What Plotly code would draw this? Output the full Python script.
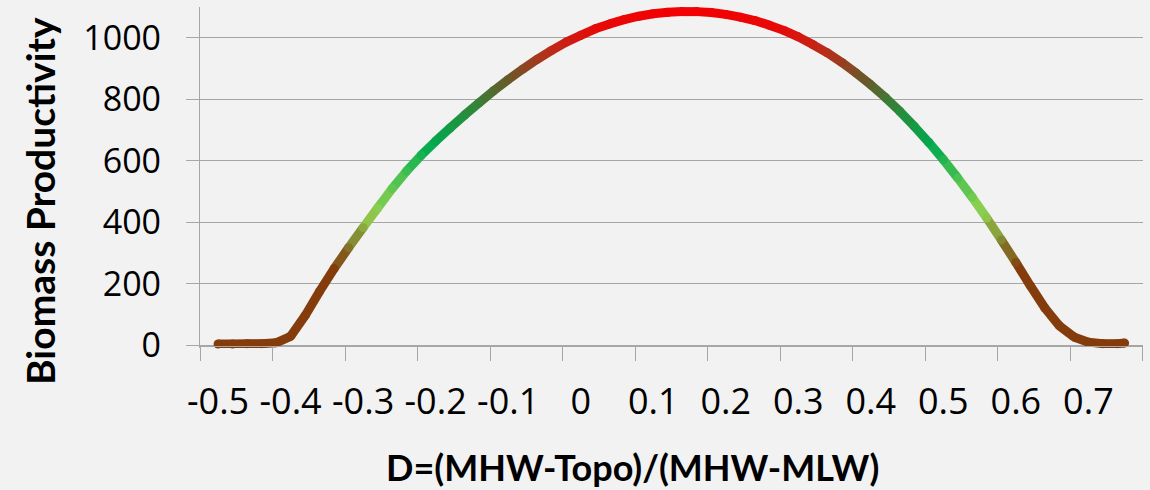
import plotly.graph_objects as go

# ---- data ----
d_values = [-0.50, -0.48, -0.46, -0.44, -0.42, -0.40, -0.38, -0.36, -0.34, -0.32,
            -0.30, -0.28, -0.26, -0.24, -0.22, -0.20, -0.18, -0.16, -0.14, -0.12,
            -0.10, -0.08, -0.06, -0.04, -0.02, 0.00, 0.02, 0.04, 0.06, 0.08,
            0.10, 0.12, 0.14, 0.16, 0.18, 0.20, 0.22, 0.24, 0.26, 0.28,
            0.30, 0.32, 0.34, 0.36, 0.38, 0.40, 0.42, 0.44, 0.46, 0.48,
            0.50, 0.52, 0.54, 0.56, 0.58, 0.60, 0.62, 0.64, 0.66, 0.68,
            0.70, 0.72, 0.74, 0.75]
productivity = [5, 5, 6, 6, 9, 30, 97, 176, 250, 318,
                383, 447, 510, 567, 618, 664, 707, 749, 789, 828,
                864, 898, 930, 959, 986, 1008, 1029, 1045, 1059, 1070,
                1078, 1083, 1085, 1085, 1082, 1076, 1067, 1056, 1041, 1024,
                1003, 978, 951, 920, 885, 847, 806, 761, 712, 660,
                604, 544, 481, 414, 343, 270, 194, 122, 64, 28,
                11, 6, 6, 8]
y_tick_values = [0, 200, 400, 600, 800, 1000]
x_tick_labels = ["-0.5", "-0.4", "-0.3", "-0.2", "-0.1", "0", "0.1",
                 "0.2", "0.3", "0.4", "0.5", "0.6", "0.7"]
x_label_values = [-0.5, -0.4, -0.3, -0.2, -0.1, 0.0, 0.1, 0.2, 0.3, 0.4, 0.5, 0.6, 0.7]

# ---- styling ----
BG = "#f2f2f2"
GRID = "#a6a6a6"
LW = 9
Y_MIN, Y_MAX = -8, 1100
PLOT_TOP, PLOT_H = 7, 341
color_stops = [(0, (132, 60, 12)), (250, (132, 60, 12)), (330, (130, 125, 45)),
               (430, (146, 208, 80)), (540, (80, 195, 80)), (650, (0, 170, 80)),
               (760, (40, 140, 60)), (870, (110, 85, 40)), (955, (185, 45, 25)),
               (1030, (230, 10, 10)), (1100, (245, 0, 0))]


def value_color(v):
    for (v0, c0), (v1, c1) in zip(color_stops[:-1], color_stops[1:]):
        if v <= v1:
            t = 0 if v1 == v0 else max(0.0, (v - v0) / (v1 - v0))
            c = [round(a + (b - a) * t) for a, b in zip(c0, c1)]
            return "rgb(%d,%d,%d)" % tuple(c)
    return "rgb(%d,%d,%d)" % color_stops[-1][1]


def px_to_paper_y(py):
    return (PLOT_TOP + PLOT_H - py) / PLOT_H


def px_to_paper_x(px):
    return (px - 200) / 943


fig = go.Figure()
for i in range(len(d_values) - 1):
    seg_color = value_color((productivity[i] + productivity[i + 1]) / 2)
    fig.add_trace(go.Scatter(x=d_values[i:i + 2], y=productivity[i:i + 2], mode="lines",
                             line=dict(color=seg_color, width=LW),
                             hoverinfo="skip", showlegend=False))
fig.add_trace(go.Scatter(x=d_values, y=productivity, mode="markers",
                         marker=dict(size=LW, color=[value_color(v) for v in productivity],
                                     line=dict(width=0)),
                         cliponaxis=False, showlegend=False,
                         hovertemplate="D=%{x}<br>%{y}<extra></extra>"))

# category-style tick marks sit a quarter interval left of each label
tick_offset = 0.0248
boundary_ticks = [v - tick_offset for v in x_label_values] + [x_label_values[-1] + 0.1 - tick_offset]

fig.update_layout(
    width=1150, height=490,
    margin=dict(l=200, r=7, t=PLOT_TOP, b=490 - PLOT_TOP - PLOT_H),
    paper_bgcolor=BG, plot_bgcolor=BG,
    font=dict(family="Open Sans", color="black"),
    xaxis=dict(range=[boundary_ticks[0] - 1e-4, boundary_ticks[-1] + 1e-4],
               anchor="free", position=(0 - Y_MIN) / (Y_MAX - Y_MIN),
               tickmode="array", tickvals=boundary_ticks,
               ticktext=x_tick_labels + [""],
               ticklabelshift=18, ticklabelstandoff=10,
               ticks="outside", ticklen=14, tickwidth=1.3, tickcolor=GRID,
               showline=True, linecolor=GRID, linewidth=1.3,
               showgrid=False, zeroline=False,
               tickfont=dict(family="Open Sans", size=36, color="black")),
    yaxis=dict(range=[Y_MIN, Y_MAX], tickmode="array", tickvals=y_tick_values,
               ticks="outside", ticklen=13, tickwidth=1.3, tickcolor=GRID,
               showline=True, linecolor=GRID, linewidth=1.3,
               showgrid=True, gridcolor=GRID, gridwidth=1.3, zeroline=False,
               ticklabelstandoff=18,
               tickfont=dict(family="Open Sans", size=34, color="black")),
    annotations=[
        dict(text="<b>Biomass Productivity</b>", xref="paper", yref="paper",
             x=px_to_paper_x(40), y=px_to_paper_y(201), xanchor="center", yanchor="middle",
             textangle=-90, showarrow=False,
             font=dict(family="Lato", size=39, color="black")),
        dict(text="<b>D=(MHW-Topo)/(MHW-MLW)</b>", xref="paper", yref="paper",
             x=px_to_paper_x(632), y=px_to_paper_y(467), xanchor="center", yanchor="middle",
             showarrow=False,
             font=dict(family="Lato", size=36, color="black")),
    ],
)

fig.write_html("out.html")
